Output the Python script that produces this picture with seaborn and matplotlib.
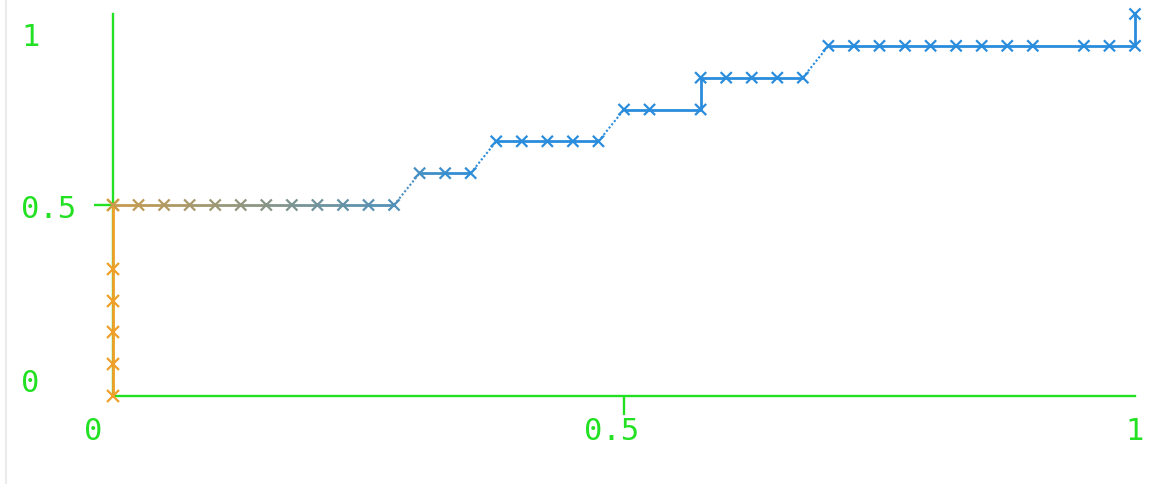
import numpy as np
import matplotlib
matplotlib.use("Agg")
import matplotlib.pyplot as plt
import seaborn as sns
from matplotlib.collections import LineCollection
from matplotlib.colors import to_rgb
from matplotlib.transforms import ScaledTranslation

# ROC-style curve: first run (orange) climbs the y-axis, second run (blue) steps to (1, 1)
orange_fpr = [0.0, 0.0, 0.0, 0.0, 0.0, 0.0]
orange_tpr = [0.0, 0.0833, 0.1667, 0.25, 0.3333, 0.5]

blue_fpr = [0.000, 0.025, 0.050, 0.075, 0.100, 0.125, 0.150, 0.175, 0.200, 0.225,
            0.250, 0.275, 0.300, 0.325, 0.350, 0.375, 0.400, 0.425, 0.450, 0.475,
            0.500, 0.525, 0.575, 0.575, 0.600, 0.625, 0.650, 0.675, 0.700, 0.725,
            0.750, 0.775, 0.800, 0.825, 0.850, 0.875, 0.900, 0.950, 0.975, 1.000,
            1.000]
blue_tpr = [0.5, 0.5, 0.5, 0.5, 0.5, 0.5, 0.5, 0.5, 0.5, 0.5,
            0.5, 0.5, 0.5833, 0.5833, 0.5833, 0.6667, 0.6667, 0.6667, 0.6667, 0.6667,
            0.75, 0.75, 0.75, 0.8333, 0.8333, 0.8333, 0.8333, 0.8333, 0.9167, 0.9167,
            0.9167, 0.9167, 0.9167, 0.9167, 0.9167, 0.9167, 0.9167, 0.9167, 0.9167, 0.9167,
            1.0]

x_ticks = [0, 0.5, 1]
x_tick_labels = ["0", "0.5", "1"]
y_ticks = [0, 0.5, 1]
y_tick_labels = ["0", "0.5", "1"]

GREEN = "#22e022"
ORANGE = "#f0a028"
BLUE = "#2a8cdc"

sns.set_theme(style="white")
plt.rcParams["font.family"] = ["DejaVu Sans Mono", "DejaVu Sans"]

fig = plt.figure(figsize=(11.55, 4.84), dpi=100)
ax = fig.add_axes([113 / 1155, 88 / 484, 1022 / 1155, 382 / 484])
ax.set_xlim(0, 1)
ax.set_ylim(0, 1)

# orange run along the y-axis
sns.lineplot(x=orange_fpr, y=orange_tpr, estimator=None, sort=False, ax=ax,
             color=ORANGE, linewidth=2.0, marker="x", markersize=8,
             markeredgewidth=1.6, markeredgecolor=ORANGE, clip_on=False, zorder=4)

# blue run, fading in from the orange colour along its first steps
o_rgb = np.array(to_rgb(ORANGE))
b_rgb = np.array(to_rgb(BLUE))
n = len(blue_fpr)
t = np.clip(0.2 + 0.055 * np.arange(n), 0, 1)
point_colors = [tuple((1 - ti) * o_rgb + ti * b_rgb) for ti in t]

segs, seg_colors, seg_styles, seg_widths = [], [], [], []
for i in range(n - 1):
    p0 = (blue_fpr[i], blue_tpr[i])
    p1 = (blue_fpr[i + 1], blue_tpr[i + 1])
    segs.append([p0, p1])
    seg_colors.append(tuple((np.array(point_colors[i]) + np.array(point_colors[i + 1])) / 2))
    diagonal = (p0[0] != p1[0]) and (p0[1] != p1[1])
    seg_styles.append((0, (1.0, 1.0)) if diagonal else "solid")
    seg_widths.append(1.5 if diagonal else 2.0)

lc = LineCollection(segs, colors=seg_colors, linestyles=seg_styles,
                    linewidths=seg_widths, zorder=3, clip_on=False)
ax.add_collection(lc)

labels = [str(i) for i in range(n)]
sns.scatterplot(x=blue_fpr, y=blue_tpr, hue=labels,
                palette=dict(zip(labels, point_colors)), marker="x", s=64,
                linewidth=1.6, legend=False, ax=ax, clip_on=False, zorder=5)

# axes styling
for side in ("top", "right"):
    ax.spines[side].set_visible(False)
for side in ("left", "bottom"):
    ax.spines[side].set_color(GREEN)
    ax.spines[side].set_linewidth(1.7)
    ax.spines[side].set_zorder(2)

ax.set_xticks([0.5])
ax.set_yticks([0.5])
ax.set_xticklabels([])
ax.set_yticklabels([])
ax.tick_params(axis="both", length=14, width=1.7, color=GREEN, direction="out",
               bottom=True, left=True)
ax.grid(False)
ax.set_xlabel("")
ax.set_ylabel("")

text_kw = dict(color=GREEN, fontsize=22, fontfamily=["DejaVu Sans Mono", "DejaVu Sans"],
               clip_on=False)

# x tick labels
x_dx = [-20, -12, 0]
for val, lab, dx in zip(x_ticks, x_tick_labels, x_dx):
    tr = ax.get_xaxis_transform() + ScaledTranslation(dx / 100, -35 / 100, fig.dpi_scale_trans)
    ax.text(val, 0, lab, transform=tr, ha="center", va="center", **text_kw)

# y tick labels
y_dy = [13, -5, -24]
for val, lab, dy in zip(y_ticks, y_tick_labels, y_dy):
    tr = ax.get_yaxis_transform() + ScaledTranslation(0, dy / 100, fig.dpi_scale_trans)
    ax.text((21 - 113) / 1022, val, lab, transform=tr, ha="left", va="center", **text_kw)

# thin frame edge on the left of the canvas
fig.add_artist(plt.Line2D([5.5 / 1155, 5.5 / 1155], [0, 1], transform=fig.transFigure,
                          color="#ebebeb", linewidth=1.5))

fig.savefig("out.png", dpi=100, facecolor="white")
